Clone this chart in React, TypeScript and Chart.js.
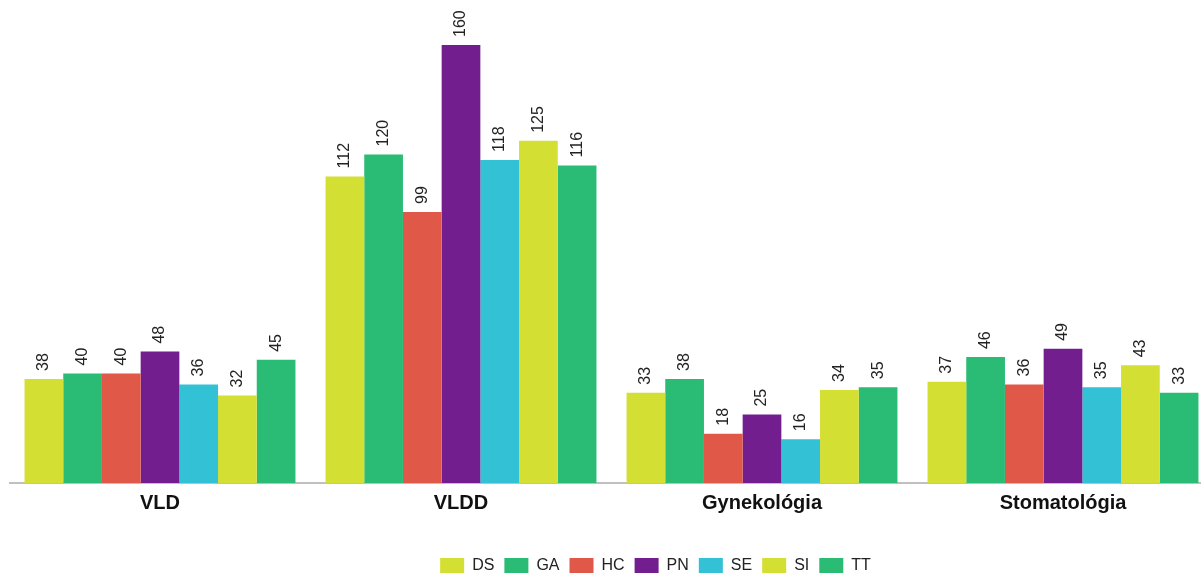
import React, { useEffect, useRef } from "react";
import { Chart, registerables } from "chart.js";

Chart.register(...registerables);

const categories = ["VLD", "VLDD", "Gynekológia", "Stomatológia"];
const seriesNames = ["DS", "GA", "HC", "PN", "SE", "SI", "TT"];
const DS = [38, 112, 33, 37];
const GA = [40, 120, 38, 46];
const HC = [40, 99, 18, 36];
const PN = [48, 160, 25, 49];
const SE = [36, 118, 16, 35];
const SI = [32, 125, 34, 43];
const TT = [45, 116, 35, 33];
const seriesValues = [DS, GA, HC, PN, SE, SI, TT];
const seriesColors = ["#d4df33", "#2abb74", "#e05948", "#731e8e", "#33c1d6", "#d4df33", "#2abb74"];

const FONT = "'Liberation Sans', Arial, Helvetica, sans-serif";

const valueLabels = {
  id: "valueLabels",
  afterDatasetsDraw(chart: any) {
    const ctx = chart.ctx;
    ctx.save();
    ctx.font = `16px ${FONT}`;
    ctx.fillStyle = "#222";
    ctx.textAlign = "left";
    ctx.textBaseline = "middle";
    chart.data.datasets.forEach((ds: any, di: number) => {
      const meta = chart.getDatasetMeta(di);
      meta.data.forEach((el: any, i: number) => {
        ctx.save();
        ctx.translate(el.x, el.y - 8);
        ctx.rotate(-Math.PI / 2);
        ctx.fillText(String(ds.data[i]), 0, 0);
        ctx.restore();
      });
    });
    ctx.restore();
  },
};

const legendShift = {
  id: "legendShift",
  afterLayout(chart: any) {
    const lg = chart.legend;
    if (lg) {
      lg.left += 44;
      lg.right += 44;
    }
  },
};

export default function App() {
  const ref = useRef<HTMLCanvasElement | null>(null);
  useEffect(() => {
    document.documentElement.style.overflow = "hidden";
    const canvas = ref.current!;
    const chart = new Chart(canvas, {
      type: "bar",
      data: {
        labels: categories,
        datasets: seriesNames.map((name, i) => ({
          label: name,
          data: seriesValues[i],
          backgroundColor: seriesColors[i],
          borderWidth: 0,
          categoryPercentage: 0.9,
          barPercentage: 1.0,
        })),
      },
      options: {
        animation: false,
        responsive: false,
        devicePixelRatio: 1,
        layout: { padding: { left: 1.5, right: 4.5, top: 9.6, bottom: 4 } },
        plugins: {
          tooltip: { enabled: false },
          legend: {
            position: "bottom",
            labels: {
              boxWidth: 24,
              boxHeight: 16,
              padding: 10,
              color: "#222",
              font: { size: 16, family: FONT },
            },
          },
        },
        scales: {
          x: {
            grid: { display: false, drawTicks: false },
            border: { display: true, color: "#c0c0c0", width: 2 },
            ticks: {
              color: "#111",
              padding: 8,
              font: { size: 20, weight: "bold", family: FONT },
            },
            afterFit: (s: any) => {
              s.height = 65;
            },
          },
          y: {
            display: false,
            min: 0,
            max: 170,
          },
        },
      },
      plugins: [valueLabels, legendShift],
    });
    return () => chart.destroy();
  }, []);
  return (
    <div style={{ height: 557 }}>
      <div style={{ position: "fixed", left: 8, top: 8, width: 1210, height: 580 }}>
        <canvas ref={ref} width={1210} height={580} style={{ width: 1210, height: 580, display: "block" }} />
      </div>
    </div>
  );
}
